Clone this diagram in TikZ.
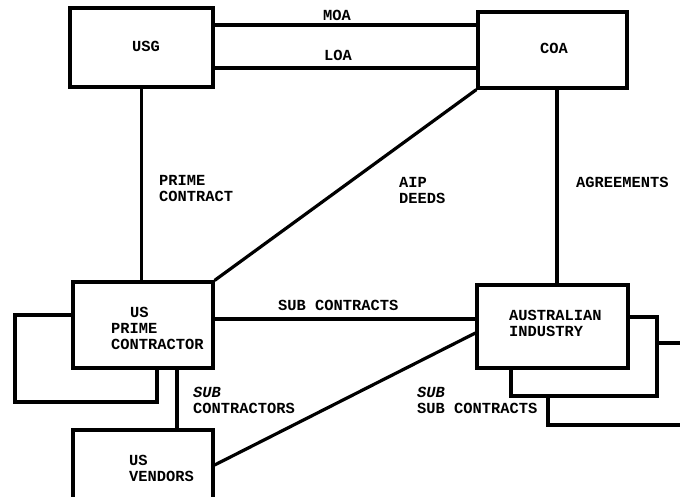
\documentclass[tikz,border=0pt]{standalone}
\usepackage{fontspec}
\setmonofont{Liberation Mono}
\begin{document}
\begin{tikzpicture}[x=1pt,y=-1pt,
  box/.style={draw,line width=3.2pt,minimum width=#1,inner sep=0pt},
  conn/.style={line width=3.2pt,line join=miter},
  txt/.style={anchor=north west,inner sep=0pt,align=left,font=\ttfamily\bfseries\fontsize{15.4}{16}\selectfont}]
\useasboundingbox (0,0) rectangle (680,496);
\clip (0,0) rectangle (680,496);
\node[box=143pt,minimum height=79pt] (usg) at (141.5,47.5) {};
\node[box=149pt,minimum height=76pt] (coa) at (552.5,50) {};
\node[box=140pt,minimum height=86pt] (uspc) at (143,325) {};
\node[box=151pt,minimum height=83pt] (ai) at (552.5,326.5) {};
\node[box=140pt,minimum height=80pt] (usv) at (143,470) {};
% texts
\node[txt] (tusg) at (132,41) {USG};
\node[txt] (tcoa) at (540,43) {COA};
\node[txt] (tmoa) at (323,10) {MOA};
\node[txt] (tloa) at (324,50) {LOA};
\node[txt] (tpc) at (159,175) {PRIME\\CONTRACT};
\node[txt] (taip) at (399,177) {AIP\\DEEDS};
\node[txt] (tagr) at (576,177) {AGREEMENTS};
\node[txt] (tuspc) at (111,307) {\hspace*{19pt}US\\PRIME\\CONTRACTOR};
\node[txt] (tsubc) at (278,300) {SUB CONTRACTS};
\node[txt] (tai) at (509,310) {AUSTRALIAN\\INDUSTRY};
\node[txt] (tsco) at (193,387) {{\itshape SUB}\\CONTRACTORS};
\node[txt] (tssc) at (417,387) {{\itshape SUB}\\SUB CONTRACTS};
\node[txt] (tusv) at (129,455) {US\\VENDORS};
% connectors
\draw[conn] (usg.east |- 0,25) -- (coa.west |- 0,25);
\draw[conn] (usg.east |- 0,68) -- (coa.west |- 0,68);
\draw[conn] (usg.south) -- (usg.south |- uspc.north);
\draw[conn] (coa.south -| 557,0) -- (ai.north -| 557,0);
\draw[conn] (coa.south west) -- (uspc.north east);
\draw[conn] (uspc.east |- 0,319) -- (ai.west |- 0,319);
\draw[conn] (usv.east |- 0,465) -- (ai.west |- 0,333);
\draw[conn] (uspc.south -| 177,0) -- (usv.north -| 177,0);
\draw[conn] (uspc.west |- 0,315) -- (15,315) -- (15,402) -- (157,402) -- (uspc.south -| 157,0);
\draw[conn] (ai.east |- 0,317) -- (657,317) -- (657,396) -- (511,396) -- (ai.south -| 511,0);
\draw[conn] (657,343) -- (690,343);
\draw[conn] (548,396) -- (548,425) -- (690,425);
\end{tikzpicture}
\end{document}
